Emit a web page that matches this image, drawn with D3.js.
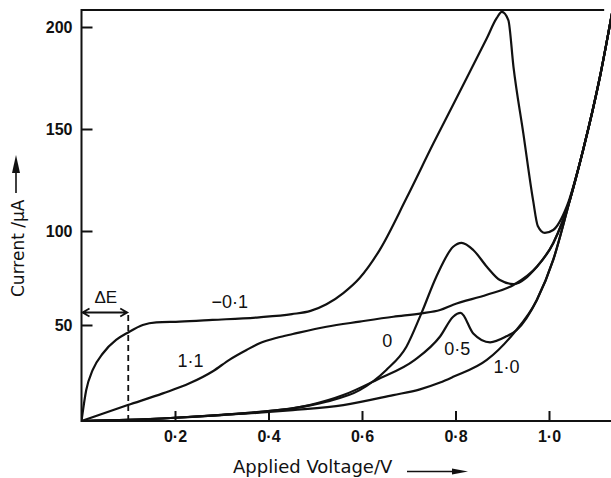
<!DOCTYPE html>
<html>
<head>
<meta charset="utf-8">
<script src="https://cdn.jsdelivr.net/npm/d3@7"></script>
<style>
body { margin: 0; background: #fff; }
text { fill: #111; }
</style>
</head>
<body>
<div id="chart"></div>
<script>
var width = 611;
var height = 478;

// readings from the figure: [applied voltage (V), current (µA)]
let curveNeg01 = [[0,0],[0.010,16],[0.024,26.6],[0.046,35.3],[0.074,42.2],[0.099,46],[0.131,50],[0.16,51.4],
    [0.21,51.8],[0.28,52.7],[0.38,54.1],[0.45,55.8],[0.49,57.5],[0.524,61],[0.56,67],[0.595,75],[0.638,90],
    [0.695,116],[0.752,142.6],[0.824,175],[0.867,194.5],[0.888,204.3],[0.899,207.4],[0.913,203.4],[0.924,180.5],
    [0.945,148],[0.966,115],[0.976,102.5],[0.991,99],[1.009,100.5],[1.038,112],[1.073,139.7],[1.109,175.6],[1.135,207]];
let curve0 = [[0,0],[0.1,0.6],[0.2,1.7],[0.3,3.2],[0.38,4.8],[0.452,6.6],[0.524,10.1],[0.595,16.1],[0.652,26.6],
    [0.695,38.7],[0.727,56.2],[0.759,75.7],[0.795,91.6],[0.813,93.7],[0.838,89.9],[0.867,81],[0.895,73.9],
    [0.924,71.8],[0.974,81],[1.009,93.5],[1.045,115.5],[1.073,139.7],[1.109,175.6],[1.135,207]];
let curve05 = [[0,0],[0.1,0.6],[0.2,1.7],[0.3,3.2],[0.38,4.6],[0.488,8.3],[0.56,13.5],[0.631,21.4],[0.713,31.8],
    [0.767,44],[0.795,54.4],[0.811,56.4],[0.838,45.6],[0.874,41],[0.909,44.1],[0.931,47.4],[0.974,63.3],
    [1.009,84.6],[1.045,115.5],[1.073,139.7],[1.109,175.6],[1.135,207]];
let curve10 = [[0,0],[0.1,0.6],[0.2,1.7],[0.3,3.1],[0.38,4.3],[0.452,5.7],[0.56,8.3],[0.667,13.5],[0.724,16.5],
    [0.767,20],[0.795,23],[0.867,31.8],[0.924,45.6],[0.974,63.3],[1.009,84.6],[1.045,115.5],[1.073,139.7],
    [1.109,175.6],[1.135,207]];
let curve11 = [[0,0],[0.099,8.3],[0.174,14.4],[0.231,19.6],[0.281,25.9],[0.317,32],[0.353,37],[0.381,40.5],
    [0.42,43.5],[0.452,45.3],[0.524,49.1],[0.595,51.8],[0.667,54.4],[0.727,56.2],[0.767,58],[0.795,60.8],[0.867,66.1],
    [0.924,71.3],[0.974,81],[1.009,93.5],[1.045,115.5],[1.073,139.7],[1.109,175.6],[1.135,207]];

let curveNames = ["\u22120\u00b71", "0", "0\u00b75", "1\u00b70", "1\u00b71"];
// where each name sits, in data units [V, µA]
let curveLabelAt = [[0.317,59],[0.654,38.7],[0.804,34.4],[0.909,24.8],[0.233,28.3]];

let xTicks = [0.2, 0.4, 0.6, 0.8, 1.0];
let yTicks = [50, 100, 150, 200];
let deltaE = 0.1;

let x = d3.scaleLinear().domain([0, 1]).range([81.5, 549]);
// the printed axis is not evenly spaced, so each tick gets its own stop
let y = d3.scaleLinear().domain([0, 50, 100, 150, 200]).range([421, 325, 231, 129, 27]);

var svg = d3.select("#chart").append("svg")
    .attr("width", width).attr("height", height)
    .style("font-family", "'Liberation Sans', Arial, sans-serif");

svg.append("defs").append("clipPath").attr("id", "plot")
    .append("rect").attr("x", x(0)).attr("y", 0).attr("width", width - x(0)).attr("height", y(0));

// frame: left axis, top line, bottom axis
svg.append("path")
    .attr("d", `M${x(1.118)},${y(208.3)}H${x(0)}V${y(0)}H${width}`)
    .attr("fill", "none").attr("stroke", "#111").attr("stroke-width", 2);

let gx = svg.append("g").attr("transform", `translate(0,${y(0)})`)
    .call(d3.axisBottom(x).tickValues(xTicks).tickSize(-10).tickPadding(10)
        .tickFormat(d => d3.format(".1f")(d).replace(".", "\u00b7")));
gx.select(".domain").remove();
gx.selectAll("line").attr("stroke", "#111").attr("stroke-width", 2);
gx.selectAll("text").attr("font-size", 16).attr("font-weight", "bold")
    .attr("font-family", "'Liberation Sans', Arial, sans-serif");

let gy = svg.append("g").attr("transform", `translate(${x(0)},0)`)
    .call(d3.axisLeft(y).tickValues(yTicks).tickSize(-11).tickPadding(9));
gy.select(".domain").remove();
gy.selectAll("line").attr("stroke", "#111").attr("stroke-width", 2);
gy.selectAll("text").attr("font-size", 16).attr("font-weight", "bold")
    .attr("font-family", "'Liberation Sans', Arial, sans-serif");

let line = d3.line().x(d => x(d[0])).y(d => y(d[1])).curve(d3.curveMonotoneX);

svg.append("g").attr("clip-path", "url(#plot)")
    .selectAll("path").data([curveNeg01, curve0, curve05, curve10, curve11])
    .join("path")
    .attr("d", line)
    .attr("fill", "none").attr("stroke", "#111").attr("stroke-width", 2.2)
    .attr("stroke-linejoin", "round");

svg.selectAll(".clabel").data(curveNames)
    .join("text").attr("class", "clabel")
    .attr("x", (d, i) => x(curveLabelAt[i][0]))
    .attr("y", (d, i) => y(curveLabelAt[i][1]))
    .attr("text-anchor", "middle").attr("font-size", 18)
    .text(d => d);

// ΔE marker
svg.append("line")
    .attr("x1", x(deltaE)).attr("x2", x(deltaE)).attr("y1", y(0)).attr("y2", 314)
    .attr("stroke", "#111").attr("stroke-width", 1.8).attr("stroke-dasharray", "6,4");
svg.append("path")
    .attr("d", `M${x(0) + 1},312.5H${x(deltaE) - 1}M${x(0) + 8},308.5L${x(0) + 1},312.5L${x(0) + 8},316.5M${x(deltaE) - 8},308.5L${x(deltaE) - 1},312.5L${x(deltaE) - 8},316.5`)
    .attr("fill", "none").attr("stroke", "#111").attr("stroke-width", 1.8);
svg.append("text").attr("x", (x(0) + x(deltaE)) / 2 + 1).attr("y", 303)
    .attr("text-anchor", "middle").attr("font-size", 17).text("\u0394E");

// axis titles with their arrows
svg.append("text").attr("x", 233).attr("y", 473)
    .attr("font-family", "'DejaVu Sans', sans-serif").attr("font-size", 18)
    .text("Applied Voltage/V");
svg.append("line").attr("x1", 407).attr("x2", 458).attr("y1", 471.5).attr("y2", 471.5)
    .attr("stroke", "#111").attr("stroke-width", 1.6);
svg.append("path").attr("d", "M468,471.5L452,468.5L452,474.5Z").attr("fill", "#111");

svg.append("text").attr("transform", "translate(23.5,297) rotate(-90)")
    .attr("font-family", "'DejaVu Sans', sans-serif").attr("font-size", 17)
    .text("Current /\u00b5A");
svg.append("line").attr("x1", 16).attr("x2", 16).attr("y1", 193).attr("y2", 168)
    .attr("stroke", "#111").attr("stroke-width", 1.6);
svg.append("path").attr("d", "M16,155L12,173L20,173Z").attr("fill", "#111");
</script>
</body>
</html>
